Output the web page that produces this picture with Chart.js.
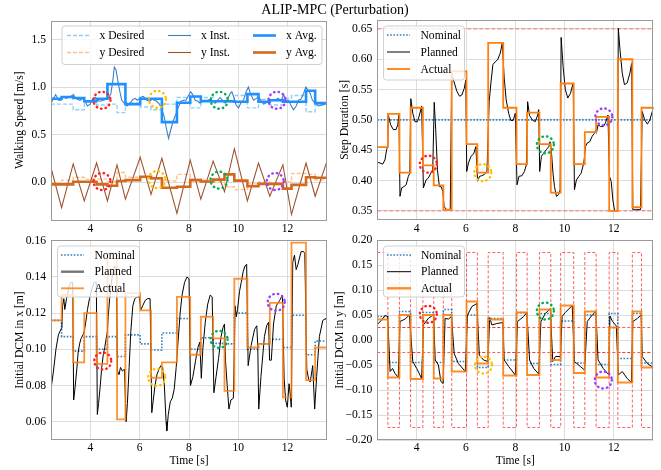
<!DOCTYPE html>
<html><head><meta charset="utf-8">
<script src="https://cdn.jsdelivr.net/npm/chart.js@4.4.1/dist/chart.umd.min.js"></script>
<style>
html,body{margin:0;padding:0;background:#fff;}
#wrap{position:relative;width:661px;height:470px;overflow:hidden;background:#fff;}
canvas{position:absolute;left:0;top:0;}
#title{position:absolute;left:0;top:1px;width:661px;padding-left:9px;box-sizing:border-box;text-align:center;font:14px "Liberation Serif",serif;color:#000;line-height:18px;}
</style></head><body>
<div id="wrap">
<canvas id="c1" width="661" height="470"></canvas>
<canvas id="c2" width="661" height="470"></canvas>
<canvas id="c3" width="661" height="470"></canvas>
<canvas id="c4" width="661" height="470"></canvas>
<div id="title">ALIP-MPC (Perturbation)</div>
</div>
<script>
// ---------- shared time axis ----------
const stepStarts = [2.40, 2.83, 3.30, 3.75, 4.25, 4.69, 5.08, 5.42, 6.02, 6.46, 6.90, 7.51, 8.05, 8.48, 8.98, 9.44, 9.84, 10.37, 10.82, 11.28, 11.81, 12.16, 12.75, 13.12];
const timeEnd = 13.60;
const timeTicks = [4, 6, 8, 10, 12];
const timeTickLabels = ['4', '6', '8', '10', '12'];

// ---------- panel 1: walking speed ----------
const xDesired = [0.82, 0.82, 0.76, 0.84, 0.81, 0.82, 0.73, 0.83, 0.79, 0.76, 0.82, 0.89, 0.78, 0.89, 0.85, 0.84, 0.91, 0.78, 0.87, 0.81, 0.88, 0.91, 0.74, 0.81];
const yDesired = [-0.01, 0.02, 0.05, 0.03, 0.03, 0.0, 0.10, 0.05, 0.05, 0.03, 0.01, 0.08, 0.03, 0.02, 0.0, -0.05, -0.08, -0.02, 0.0, -0.03, 0.0, 0.09, 0.08, 0.02];
const xAvg = [0.877, 0.894, 0.884, 0.85, 0.877, 1.03, 1.03, 0.82, 0.877, 0.877, 0.63, 0.835, 0.90, 0.85, 0.85, 0.85, 0.845, 0.925, 0.845, 0.86, 0.845, 0.845, 0.96, 0.83];
const yAvg = [-0.025, -0.025, 0.003, 0.003, -0.025, -0.04, 0.01, 0.02, 0.055, 0.04, -0.06, -0.05, 0.02, 0.005, 0.025, 0.08, 0.015, -0.045, -0.02, -0.02, -0.07, -0.03, 0.05, 0.045];
const xInst = [[2.40,0.83],[2.50,0.88],[2.59,0.92],[2.70,0.86],[2.81,0.86],[2.90,0.90],[3.00,0.88],[3.11,0.89],[3.20,0.90],[3.31,0.92],[3.38,0.89],[3.47,0.87],[3.58,0.86],[3.69,0.88],[3.78,0.85],[3.88,0.80],[3.99,0.82],[4.10,0.88],[4.19,0.89],[4.30,0.86],[4.39,0.85],[4.53,0.86],[4.64,0.87],[4.73,0.88],[4.83,0.93],[4.91,1.07],[4.97,1.21],[5.04,1.18],[5.11,1.07],[5.18,0.97],[5.27,0.86],[5.37,0.83],[5.48,0.80],[5.58,0.82],[5.72,0.87],[5.81,0.88],[5.91,0.86],[6.02,0.89],[6.15,0.90],[6.29,0.86],[6.40,0.85],[6.50,0.87],[6.60,0.86],[6.69,0.85],[6.80,0.82],[6.90,0.76],[6.99,0.69],[7.07,0.58],[7.17,0.46],[7.26,0.55],[7.37,0.65],[7.48,0.72],[7.57,0.79],[7.67,0.85],[7.78,0.86],[7.88,0.86],[7.98,0.91],[8.07,0.95],[8.15,0.92],[8.25,0.86],[8.36,0.85],[8.45,0.83],[8.55,0.86],[8.66,0.86],[8.75,0.86],[8.86,0.87],[8.97,0.85],[9.06,0.83],[9.16,0.86],[9.26,0.89],[9.37,0.86],[9.47,0.83],[9.56,0.87],[9.67,0.93],[9.74,0.95],[9.81,0.90],[9.91,0.81],[10.01,0.78],[10.10,0.83],[10.21,0.86],[10.32,0.95],[10.41,1.00],[10.51,0.92],[10.62,0.86],[10.73,0.88],[10.82,0.90],[10.92,0.86],[11.02,0.82],[11.12,0.83],[11.23,0.86],[11.32,0.86],[11.43,0.86],[11.54,0.87],[11.63,0.88],[11.73,0.85],[11.84,0.92],[11.93,0.86],[12.04,0.86],[12.13,0.81],[12.24,0.76],[12.35,0.80],[12.44,0.86],[12.54,0.87],[12.65,0.93],[12.74,1.00],[12.82,0.97],[12.92,0.93],[13.01,0.86],[13.12,0.83],[13.26,0.80],[13.39,0.81],[13.53,0.82],[13.60,0.83]];
const yInst = [[2.40,0.15],[2.83,-0.27],[3.30,0.19],[3.75,-0.20],[4.25,0.20],[4.69,-0.20],[5.08,0.18],[5.42,-0.18],[6.02,0.26],[6.46,-0.13],[6.90,0.25],[7.51,-0.33],[8.05,0.23],[8.48,-0.18],[8.98,0.22],[9.44,-0.10],[9.84,0.35],[10.37,-0.20],[10.82,0.20],[11.28,-0.15],[11.81,0.18],[12.16,-0.34],[12.75,0.20],[13.12,-0.15],[13.60,0.22]];
const speedTicks = [0, 0.5, 1.0, 1.5];
const speedTickLabels = ['0.0', '0.5', '1.0', '1.5'];

// ---------- panel 2: step duration ----------
const durNominal = [0.5, 0.5];
const durLower = [0.35, 0.35];
const durUpper = [0.65, 0.65];
const durActual = [0.455, 0.510, 0.413, 0.520, 0.425, 0.392, 0.352, 0.580, 0.460, 0.413, 0.627, 0.520, 0.427, 0.512, 0.460, 0.380, 0.560, 0.427, 0.480, 0.505, 0.350, 0.600, 0.356, 0.520];
const durPlanned = [[2.40,0.430],[2.51,0.429],[2.62,0.427],[2.71,0.434],[2.78,0.451],[2.82,0.456],[2.85,0.508],[2.94,0.492],[3.05,0.484],[3.16,0.484],[3.23,0.492],[3.28,0.508],[3.32,0.374],[3.39,0.388],[3.48,0.390],[3.57,0.393],[3.66,0.407],[3.72,0.412],[3.76,0.535],[3.84,0.511],[3.93,0.497],[4.03,0.497],[4.11,0.508],[4.20,0.523],[4.27,0.388],[4.38,0.401],[4.47,0.404],[4.57,0.412],[4.65,0.418],[4.71,0.529],[4.77,0.484],[4.84,0.418],[4.92,0.390],[4.99,0.390],[5.06,0.382],[5.11,0.357],[5.22,0.352],[5.36,0.352],[5.42,0.577],[5.49,0.566],[5.63,0.547],[5.74,0.539],[5.83,0.541],[5.93,0.552],[5.99,0.566],[6.03,0.415],[6.10,0.429],[6.20,0.440],[6.31,0.444],[6.40,0.456],[6.47,0.399],[6.55,0.407],[6.64,0.408],[6.74,0.410],[6.85,0.415],[6.94,0.530],[7.01,0.561],[7.09,0.591],[7.19,0.596],[7.28,0.599],[7.39,0.610],[7.47,0.626],[7.55,0.569],[7.63,0.533],[7.73,0.511],[7.82,0.499],[7.91,0.499],[8.00,0.511],[8.07,0.393],[8.15,0.407],[8.27,0.408],[8.37,0.415],[8.45,0.426],[8.50,0.530],[8.58,0.507],[8.69,0.500],[8.81,0.497],[8.91,0.508],[8.95,0.517],[8.99,0.415],[9.06,0.440],[9.15,0.445],[9.26,0.451],[9.36,0.456],[9.41,0.464],[9.46,0.451],[9.53,0.412],[9.59,0.390],[9.67,0.374],[9.76,0.377],[9.82,0.385],[9.86,0.636],[9.94,0.588],[10.03,0.550],[10.13,0.536],[10.24,0.544],[10.35,0.561],[10.40,0.385],[10.48,0.401],[10.58,0.407],[10.67,0.412],[10.78,0.429],[10.85,0.456],[10.92,0.462],[11.02,0.464],[11.12,0.473],[11.21,0.478],[11.27,0.484],[11.29,0.478],[11.36,0.492],[11.46,0.489],[11.57,0.489],[11.66,0.495],[11.76,0.508],[11.82,0.407],[11.89,0.399],[11.96,0.368],[12.03,0.350],[12.14,0.350],[12.18,0.651],[12.25,0.615],[12.34,0.577],[12.43,0.558],[12.54,0.561],[12.65,0.577],[12.72,0.593],[12.77,0.352],[12.88,0.352],[13.08,0.352],[13.15,0.514],[13.25,0.500],[13.36,0.493],[13.46,0.500],[13.56,0.514],[13.63,0.522]];
const durTicks = [0.35, 0.40, 0.45, 0.50, 0.55, 0.60, 0.65];
const durTickLabels = ['0.35', '0.40', '0.45', '0.50', '0.55', '0.60', '0.65'];

// ---------- panel 3: initial DCM in x ----------
const dcmxNominal = [0.116, 0.107, 0.099, 0.107, 0.100, 0.107, 0.096, 0.108, 0.103, 0.0996, 0.109, 0.117, 0.100, 0.1064, 0.1033, 0.103, 0.120, 0.100, 0.103, 0.1055, 0.101, 0.1188, 0.097, 0.1046];
const dcmxActual = [0.116, 0.130, 0.0928, 0.120, 0.092, 0.153, 0.0613, 0.131, 0.1215, 0.0843, 0.0928, 0.129, 0.097, 0.118, 0.106, 0.077, 0.139, 0.101, 0.103, 0.1257, 0.0735, 0.159, 0.083, 0.101];
const dcmxPlanned = [[2.40,0.078],[2.50,0.088],[2.60,0.100],[2.70,0.108],[2.80,0.111],[2.84,0.112],[2.87,0.124],[2.92,0.128],[2.96,0.122],[3.03,0.128],[3.12,0.134],[3.20,0.137],[3.28,0.137],[3.32,0.072],[3.37,0.078],[3.44,0.088],[3.50,0.098],[3.56,0.103],[3.62,0.106],[3.70,0.108],[3.75,0.110],[3.80,0.114],[3.88,0.122],[3.96,0.128],[4.05,0.133],[4.15,0.137],[4.24,0.137],[4.28,0.064],[4.33,0.070],[4.40,0.080],[4.46,0.090],[4.52,0.097],[4.58,0.101],[4.64,0.106],[4.69,0.110],[4.72,0.118],[4.78,0.128],[4.85,0.137],[4.92,0.143],[4.98,0.146],[5.05,0.145],[5.10,0.088],[5.16,0.086],[5.22,0.090],[5.30,0.088],[5.38,0.089],[5.45,0.060],[5.50,0.070],[5.57,0.090],[5.64,0.110],[5.72,0.124],[5.80,0.128],[5.90,0.129],[5.98,0.129],[6.05,0.122],[6.12,0.124],[6.22,0.127],[6.32,0.128],[6.42,0.128],[6.49,0.065],[6.55,0.072],[6.62,0.080],[6.70,0.086],[6.78,0.089],[6.86,0.091],[6.93,0.090],[7.00,0.080],[7.07,0.060],[7.10,0.055],[7.16,0.064],[7.24,0.071],[7.32,0.073],[7.40,0.078],[7.48,0.090],[7.56,0.105],[7.64,0.120],[7.72,0.130],[7.82,0.137],[7.92,0.140],[8.00,0.139],[8.06,0.080],[8.16,0.085],[8.27,0.094],[8.36,0.101],[8.44,0.104],[8.50,0.084],[8.56,0.100],[8.66,0.115],[8.76,0.125],[8.86,0.130],[8.94,0.129],[9.01,0.076],[9.10,0.085],[9.20,0.095],[9.30,0.107],[9.38,0.112],[9.44,0.114],[9.48,0.094],[9.55,0.080],[9.62,0.067],[9.70,0.072],[9.80,0.073],[9.87,0.124],[9.92,0.118],[9.97,0.122],[10.05,0.132],[10.12,0.137],[10.20,0.143],[10.27,0.146],[10.34,0.147],[10.40,0.091],[10.52,0.102],[10.66,0.111],[10.75,0.113],[10.79,0.102],[10.83,0.067],[10.92,0.085],[11.06,0.107],[11.15,0.113],[11.23,0.115],[11.27,0.094],[11.34,0.094],[11.43,0.114],[11.54,0.124],[11.68,0.127],[11.79,0.130],[11.86,0.084],[11.92,0.072],[11.99,0.068],[12.06,0.081],[12.11,0.075],[12.15,0.068],[12.21,0.148],[12.28,0.152],[12.35,0.144],[12.42,0.147],[12.55,0.154],[12.65,0.154],[12.70,0.153],[12.78,0.089],[12.86,0.083],[12.92,0.082],[13.02,0.091],[13.10,0.067],[13.18,0.085],[13.29,0.107],[13.43,0.116],[13.54,0.117],[13.62,0.115]];
const dcmxTicks = [0.06, 0.08, 0.10, 0.12, 0.14, 0.16];
const dcmxTickLabels = ['0.06', '0.08', '0.10', '0.12', '0.14', '0.16'];

// ---------- panel 4: initial DCM in y ----------
const dcmyNominal = [0.047, -0.045, 0.057, -0.045, 0.055, -0.045, 0.061, -0.043, 0.050, -0.055, 0.043, -0.040, 0.055, -0.047, 0.053, -0.049, 0.038, -0.046, 0.050, -0.049, 0.053, -0.037, 0.053, -0.046];
const dcmyActual = [0.041, -0.075, 0.050, -0.078, 0.050, -0.077, 0.050, -0.063, 0.077, -0.047, 0.041, -0.071, 0.055, -0.070, 0.061, -0.040, 0.069, -0.066, 0.057, -0.075, 0.025, -0.085, 0.057, -0.055];
const dcmyUpper = [0.175, -0.025, 0.175, -0.025, 0.175, -0.025, 0.175, -0.025, 0.175, -0.025, 0.175, -0.025, 0.175, -0.025, 0.175, -0.025, 0.175, -0.025, 0.175, -0.025, 0.175, -0.025, 0.175, -0.025];
const dcmyLower = [0.025, -0.175, 0.025, -0.175, 0.025, -0.175, 0.025, -0.175, 0.025, -0.175, 0.025, -0.175, 0.025, -0.175, 0.025, -0.175, 0.025, -0.175, 0.025, -0.175, 0.025, -0.175, 0.025, -0.175];
const dcmyInnerTop = [0.025, 0.025];
const dcmyInnerBottom = [-0.025, -0.025];
const dcmyPlanned = [[2.40,0.031],[2.58,0.040],[2.71,0.049],[2.82,0.047],[2.92,-0.063],[3.02,-0.057],[3.12,-0.067],[3.25,-0.075],[3.32,0.037],[3.53,0.042],[3.70,0.050],[3.84,-0.043],[4.00,-0.057],[4.20,-0.077],[4.27,0.030],[4.47,0.043],[4.68,0.051],[4.75,-0.040],[4.88,-0.050],[4.98,-0.083],[5.07,-0.087],[5.15,0.043],[5.29,0.042],[5.41,0.047],[5.52,-0.027],[5.69,-0.047],[5.97,-0.063],[6.06,0.050],[6.24,0.067],[6.44,0.073],[6.54,-0.030],[6.71,-0.040],[6.89,-0.043],[6.96,0.045],[7.05,0.030],[7.25,0.033],[7.50,0.035],[7.55,-0.040],[7.73,-0.053],[8.00,-0.070],[8.09,0.037],[8.34,0.047],[8.47,0.055],[8.58,-0.040],[8.75,-0.057],[8.95,-0.068],[9.04,0.037],[9.22,0.053],[9.42,0.063],[9.52,-0.043],[9.63,-0.033],[9.83,-0.033],[9.90,0.047],[10.03,0.055],[10.31,0.069],[10.40,-0.043],[10.64,-0.053],[10.81,-0.060],[10.92,0.037],[11.12,0.050],[11.27,0.057],[11.36,-0.040],[11.57,-0.057],[11.80,-0.070],[11.84,0.048],[11.95,0.037],[12.10,0.028],[12.18,-0.070],[12.34,-0.063],[12.54,-0.077],[12.71,-0.085],[12.77,0.037],[12.95,0.043],[13.11,0.050],[13.15,-0.033],[13.36,-0.047],[13.60,-0.055]];
const dcmyTicks = [-0.20, -0.15, -0.10, -0.05, 0.00, 0.05, 0.10, 0.15, 0.20];
const dcmyTickLabels = ['\u22120.20', '\u22120.15', '\u22120.10', '\u22120.05', '0.00', '0.05', '0.10', '0.15', '0.20'];

// ---------- highlighted moments (dotted rings) ----------
const ringColors = ['#ff2020', '#ffc000', '#00b050', '#9b3cff'];
const speedRingT = [4.47, 6.72, 9.23, 11.57, 4.47, 6.70, 9.22, 11.50];
const speedRingV = [0.86, 0.87, 0.86, 0.86, 0.005, 0.025, 0.02, 0.005];
const durRingT = [4.47, 6.68, 9.22, 11.59];
const durRingV = [0.427, 0.413, 0.459, 0.505];
const dcmxRingT = [4.50, 6.69, 9.22, 11.54];
const dcmxRingV = [0.0935, 0.0845, 0.1055, 0.126];
const dcmyRingT = [4.47, 6.71, 9.22, 11.57];
const dcmyRingV = [0.0513, -0.05, 0.058, -0.08];

// ---------- helpers ----------
const FONT = '"Liberation Serif", "Times New Roman", serif';
function stepPts(vals) {
  const pts = stepStarts.map((t, i) => ({x: t, y: vals[i]}));
  pts.push({x: timeEnd, y: vals[vals.length - 1]});
  return pts;
}
function pairPts(arr) { return arr.map(p => ({x: p[0], y: p[1]})); }
function constPts(v) { return [{x: stepStarts[0], y: v[0]}, {x: timeEnd, y: v[1]}]; }
function ringList(ts, vs) { return ts.map((t, i) => ({x: t, y: vs[i], c: ringColors[i % 4]})); }

const framePlugin = {
  id: 'frame',
  afterDatasetsDraw(chart) {
    const {ctx, chartArea: a} = chart;
    ctx.save();
    ctx.strokeStyle = '#9a9a9a';
    ctx.lineWidth = 1;
    ctx.setLineDash([]);
    ctx.strokeRect(Math.round(a.left) + 0.5, Math.round(a.top) + 0.5, Math.round(a.right - a.left) - 1, Math.round(a.bottom - a.top) - 1);
    ctx.restore();
  }
};
const ringPlugin = {
  id: 'rings',
  afterDatasetsDraw(chart, args, opts) {
    const ctx = chart.ctx;
    const xs = chart.scales.x, ys = chart.scales.y;
    ctx.save();
    (opts.list || []).forEach(r => {
      ctx.beginPath();
      ctx.strokeStyle = r.c;
      ctx.lineWidth = 2.4;
      ctx.lineCap = 'round';
      ctx.setLineDash([0.5, 4.1]);
      ctx.arc(xs.getPixelForValue(r.x), ys.getPixelForValue(r.y), 8.5, 0, Math.PI * 2);
      ctx.stroke();
    });
    ctx.restore();
  }
};
const boxLegendPlugin = {
  id: 'boxLegend',
  afterDraw(chart, args, o) {
    if (!o || !o.items) return;
    const ctx = chart.ctx;
    ctx.save();
    ctx.beginPath();
    if (ctx.roundRect) ctx.roundRect(o.x + 0.5, o.y + 0.5, o.w, o.h, 3); else ctx.rect(o.x + 0.5, o.y + 0.5, o.w, o.h);
    ctx.fillStyle = 'rgba(255,255,255,0.8)';
    ctx.fill();
    ctx.strokeStyle = '#d0d0d0';
    ctx.lineWidth = 1;
    ctx.stroke();
    o.items.forEach(it => {
      const ds = chart.data.datasets[it.ds];
      ctx.beginPath();
      ctx.setLineDash(it.dash || ds.borderDash || []);
      ctx.strokeStyle = it.color || ds.borderColor;
      ctx.lineWidth = it.lw || ds.borderWidth;
      ctx.lineCap = 'butt';
      ctx.moveTo(it.hx, it.y);
      ctx.lineTo(it.hx + o.hw, it.y);
      ctx.stroke();
      ctx.setLineDash([]);
      ctx.fillStyle = '#000';
      ctx.font = '11.6px ' + FONT;
      ctx.textBaseline = 'middle';
      ctx.textAlign = 'left';
      ctx.fillText(ds.label, it.tx, it.y + 0.5);
    });
    ctx.restore();
  }
};

function makePanel(id, g, datasets, yTicks, yLabels, legend, rings) {
  const tickFont = {family: FONT, size: 11.6};
  return new Chart(document.getElementById(id), {
    type: 'line',
    data: {datasets},
    options: {
      responsive: false, animation: false, devicePixelRatio: 1, events: [],
      layout: {padding: {left: g.pl, top: g.T, right: 661 - g.R, bottom: 470 - g.B - g.xH}},
      elements: {point: {radius: 0}, line: {tension: 0}},
      plugins: {legend: {display: false}, tooltip: {enabled: false}, title: {display: false}, boxLegend: legend, rings: {list: rings}},
      scales: {
        x: {
          type: 'linear', position: 'bottom', min: 2.4, max: 13.6,
          afterBuildTicks: ax => { ax.ticks = timeTicks.map(v => ({value: v})); },
          afterFit: ax => { ax.height = g.xH; },
          ticks: {padding: g.xPad, font: tickFont, color: '#000', autoSkip: false, maxRotation: 0, callback: (v, i) => timeTickLabels[i]},
          grid: {color: '#dcdcdc', lineWidth: 1, drawTicks: false},
          border: {display: false},
          title: {display: !!g.xTitle, text: g.xTitle || '', font: tickFont, color: '#000', padding: {top: 0, bottom: 2}}
        },
        y: {
          type: 'linear', position: 'left', min: g.yMin, max: g.yMax,
          afterBuildTicks: ax => { ax.ticks = yTicks.map(v => ({value: v})); },
          afterFit: ax => { ax.width = g.yW; },
          ticks: {padding: 5, font: tickFont, color: '#000', autoSkip: false, callback: (v, i) => yLabels[i]},
          grid: {color: '#dcdcdc', lineWidth: 1, drawTicks: false},
          border: {display: false},
          title: {display: true, text: g.yTitle, font: tickFont, color: '#000', padding: {top: 4, bottom: 0}}
        }
      }
    },
    plugins: [framePlugin, ringPlugin, boxLegendPlugin]
  });
}

// ---------- panel 1 ----------
makePanel('c1',
  {pl: 9, yW: 42, T: 20.5, R: 327, B: 220, xH: 22, xPad: 2, yMin: -0.4, yMax: 1.7, yTitle: 'Walking Speed [m/s]'},
  [
    {label: 'x Desired', data: stepPts(xDesired), stepped: true, borderColor: '#8fd0f8', borderWidth: 1.4, borderDash: [4, 2], order: 6},
    {label: 'y Desired', data: stepPts(yDesired), stepped: true, borderColor: '#ffc28e', borderWidth: 1.4, borderDash: [4, 2], order: 5},
    {label: 'x Inst.', data: pairPts(xInst), borderColor: '#3f7fc0', borderWidth: 1.1, order: 4},
    {label: 'y Inst.', data: pairPts(yInst), borderColor: '#a0522d', borderWidth: 1.1, order: 3},
    {label: 'x Avg.', data: stepPts(xAvg), stepped: true, borderColor: '#1e90ff', borderWidth: 2.6, order: 2},
    {label: 'y Avg.', data: stepPts(yAvg), stepped: true, borderColor: '#d2691e', borderWidth: 2.6, order: 1}
  ],
  speedTicks, speedTickLabels,
  {x: 61.5, y: 25.5, w: 260, h: 38.5, hw: 23,
   items: [
     {ds: 0, hx: 67, tx: 99.5, y: 35.5},
     {ds: 1, hx: 67, tx: 99.5, y: 52.5},
     {ds: 2, hx: 168, tx: 201, y: 35.5},
     {ds: 3, hx: 168, tx: 201, y: 52.5},
     {ds: 4, hx: 253, tx: 286, y: 35.5},
     {ds: 5, hx: 253, tx: 286, y: 52.5}
   ]},
  ringList(speedRingT, speedRingV));

// ---------- panel 2 ----------
makePanel('c2',
  {pl: 334, yW: 43.3, T: 19.8, R: 653.3, B: 220, xH: 22, xPad: 2, yMin: 0.335, yMax: 0.665, yTitle: 'Step Duration [s]'},
  [
    {label: 'Upper limit', data: constPts(durUpper), borderColor: 'rgba(255,60,60,0.55)', borderWidth: 1.4, borderDash: [4, 2], order: 7},
    {label: 'Lower limit', data: constPts(durLower), borderColor: 'rgba(255,60,60,0.55)', borderWidth: 1.4, borderDash: [4, 2], order: 6},
    {label: 'Nominal', data: constPts(durNominal), borderColor: '#2f7fbf', borderWidth: 1.6, borderDash: [1.6, 1.6], order: 3},
    {label: 'Planned', data: pairPts(durPlanned), borderColor: '#000000', borderWidth: 1, order: 2},
    {label: 'Actual', data: stepPts(durActual), stepped: true, borderColor: '#ff7f0e', borderWidth: 1.8, order: 1}
  ],
  durTicks, durTickLabels,
  {x: 383, y: 25.5, w: 81, h: 54, hw: 23,
   items: [
     {ds: 2, hx: 387, tx: 420.5, y: 35},
     {ds: 3, hx: 387, tx: 420.5, y: 52},
     {ds: 4, hx: 387, tx: 420.5, y: 69}
   ]},
  ringList(durRingT, durRingV));

// ---------- panel 3 ----------
makePanel('c3',
  {pl: 9, yW: 42, T: 240, R: 327, B: 440, xH: 30, xPad: 1, yMin: 0.0499, yMax: 0.1604, yTitle: 'Initial DCM in x [m]', xTitle: 'Time [s]'},
  [
    {label: 'Nominal', data: stepPts(dcmxNominal), stepped: true, borderColor: '#2f7fbf', borderWidth: 1.6, borderDash: [1.6, 1.6], order: 3},
    {label: 'Planned', data: pairPts(dcmxPlanned), borderColor: '#000000', borderWidth: 1, order: 2},
    {label: 'Actual', data: stepPts(dcmxActual), stepped: true, borderColor: 'rgba(255,127,14,0.85)', borderWidth: 1.8, order: 1}
  ],
  dcmxTicks, dcmxTickLabels,
  {x: 57, y: 245.5, w: 82, h: 51, hw: 23,
   items: [
     {ds: 0, hx: 61, tx: 94.5, y: 255},
     {ds: 1, hx: 61, tx: 94.5, y: 271.7, color: '#777777', lw: 2.4},
     {ds: 2, hx: 61, tx: 94.5, y: 288.3}
   ]},
  ringList(dcmxRingT, dcmxRingV));

// ---------- panel 4 ----------
makePanel('c4',
  {pl: 329, yW: 48.3, T: 240, R: 653.3, B: 440, xH: 30, xPad: 1, yMin: -0.2, yMax: 0.2, yTitle: 'Initial DCM in y [m]', xTitle: 'Time [s]'},
  [
    {label: 'Upper bound', data: stepPts(dcmyUpper), stepped: true, borderColor: 'rgba(255,40,40,0.75)', borderWidth: 1, borderDash: [3, 2], order: 9},
    {label: 'Lower bound', data: stepPts(dcmyLower), stepped: true, borderColor: 'rgba(255,40,40,0.75)', borderWidth: 1, borderDash: [3, 2], order: 8},
    {label: 'Inner top', data: constPts(dcmyInnerTop), borderColor: 'rgba(255,40,40,0.75)', borderWidth: 1, borderDash: [3, 2], order: 7},
    {label: 'Inner bottom', data: constPts(dcmyInnerBottom), borderColor: 'rgba(255,40,40,0.75)', borderWidth: 1, borderDash: [3, 2], order: 6},
    {label: 'Nominal', data: stepPts(dcmyNominal), stepped: true, borderColor: '#2f7fbf', borderWidth: 1.6, borderDash: [1.6, 1.6], order: 3},
    {label: 'Planned', data: pairPts(dcmyPlanned), borderColor: '#000000', borderWidth: 1, order: 2},
    {label: 'Actual', data: stepPts(dcmyActual), stepped: true, borderColor: 'rgba(255,127,14,0.9)', borderWidth: 1.8, order: 1}
  ],
  dcmyTicks, dcmyTickLabels,
  {x: 383, y: 245.5, w: 81, h: 51, hw: 24,
   items: [
     {ds: 4, hx: 387, tx: 421, y: 255},
     {ds: 5, hx: 387, tx: 421, y: 271.7},
     {ds: 6, hx: 387, tx: 421, y: 288.3, lw: 2.4}
   ]},
  ringList(dcmyRingT, dcmyRingV));
</script>
</body></html>
